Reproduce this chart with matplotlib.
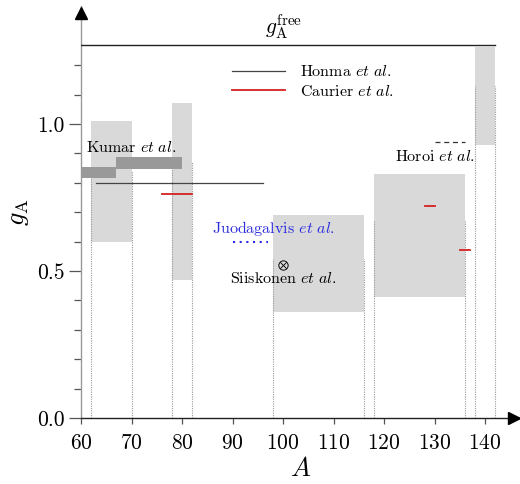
import matplotlib
matplotlib.use("Agg")
import matplotlib.pyplot as plt
from matplotlib.patches import Rectangle

plt.rcParams['font.family'] = 'serif'
plt.rcParams['font.serif'] = ['cmr10', 'DejaVu Serif']
plt.rcParams['mathtext.fontset'] = 'cm'
plt.rcParams['axes.formatter.use_mathtext'] = True

# ---- data ----
box_left = [62, 78, 98, 118, 138]
box_right = [70, 82, 116, 136, 142]
box_low = [0.60, 0.47, 0.36, 0.41, 0.93]
box_high = [1.01, 1.07, 0.69, 0.83, 1.26]
dotted_top = [0.84, 0.87, 0.54, 0.67, 1.13]

kumar_start = [60, 67]
kumar_end = [67, 80]
kumar_g = [0.835, 0.866]
kumar_halfwidth = 0.02

honma_start, honma_end, honma_g = 63, 96, 0.80
caurier_start = [76, 128, 135]
caurier_end = [82, 130, 137]
caurier_g = [0.76, 0.72, 0.57]
juoda_start, juoda_end, juoda_g = 90, 97, 0.60
siiskonen_A, siiskonen_g = 100, 0.52
horoi_start, horoi_end, horoi_g = 130, 136, 0.94
gA_free, gA_free_end = 1.27, 142

xticks = [60, 70, 80, 90, 100, 110, 120, 130, 140]
yticks = [0.0, 0.5, 1.0]

fig = plt.figure(figsize=(5.2, 4.84), dpi=100)
ax = fig.add_axes([0.1558, 0.1364, 0.8442, 0.8506])
ax.set_xlim(60, 146.9)
ax.set_ylim(0, 1.40)

for l, r, lo, hi, dt in zip(box_left, box_right, box_low, box_high, dotted_top):
    ax.add_patch(Rectangle((l, lo), r - l, hi - lo, facecolor='#d9d9d9',
                           edgecolor='none', zorder=1))
    ax.vlines([l, r], 0, dt, colors='#999999', linestyles=(0, (1, 1.1)),
              linewidth=0.8, zorder=2)

for s, e, g in zip(kumar_start, kumar_end, kumar_g):
    ax.add_patch(Rectangle((s, g - kumar_halfwidth), e - s, 2 * kumar_halfwidth,
                           facecolor='#999999', edgecolor='none', zorder=3))

ax.plot([60, gA_free_end], [gA_free, gA_free], color='#222222', lw=1.0, zorder=3)
ax.text(100, gA_free + 0.008, r'$g_{\rm A}^{\rm free}$', ha='center', va='bottom',
        fontsize=15.5)

ax.plot([honma_start, honma_end], [honma_g, honma_g], color='#444444', lw=0.9,
        zorder=4, label=r'Honma $\mathit{et\ al.}$')
for i, (s, e, g) in enumerate(zip(caurier_start, caurier_end, caurier_g)):
    ax.plot([s, e], [g, g], color='#d42020', lw=1.3, zorder=4,
            label=r'Caurier $\mathit{et\ al.}$' if i == 0 else None)

ax.plot([juoda_start, juoda_end], [juoda_g, juoda_g], color='#2a2ae0',
        linestyle=(0, (1, 2.2)), lw=1.5, zorder=4)
ax.plot([horoi_start, horoi_end], [horoi_g, horoi_g], color='#333333',
        linestyle=(0, (4, 3)), lw=0.9, zorder=4)
ax.plot([siiskonen_A], [siiskonen_g], marker=r'$\otimes$', color='#111111',
        markersize=7, markeredgewidth=0.3, linestyle='none', zorder=5)

ax.text(70, 0.92, r'Kumar $\mathit{et\ al.}$', ha='center', va='center', fontsize=11.5)
ax.text(98, 0.643, r'Juodagalvis $\mathit{et\ al.}$', ha='center', va='center',
        fontsize=11.5, color='#2a2ae0')
ax.text(100, 0.476, r'Siiskonen $\mathit{et\ al.}$', ha='center', va='center', fontsize=11.5)
ax.text(130, 0.889, r'Horoi $\mathit{et\ al.}$', ha='center', va='center', fontsize=11.5)

leg = ax.legend(loc='center left', bbox_to_anchor=(0.345, 0.817), frameon=False,
                fontsize=11.5, handlelength=3.3, handletextpad=0.9,
                labelspacing=0.3, borderpad=0, borderaxespad=0)

ax.spines['top'].set_visible(False)
ax.spines['right'].set_visible(False)
ax.spines['left'].set_color('#999999')
ax.spines['bottom'].set_color('#222222')
ax.spines['left'].set_linewidth(1.0)
ax.spines['bottom'].set_linewidth(1.0)

ax.set_xticks(xticks)
ax.set_yticks(yticks)
ax.set_yticks([0.1, 0.2, 0.3, 0.4, 0.6, 0.7, 0.8, 0.9, 1.1, 1.2], minor=True)
ax.set_yticklabels(['0.0', '0.5', '1.0'])
ax.tick_params(axis='y', which='major', length=9, width=0.9, color='#555555',
               labelsize=15.5, pad=3)
ax.tick_params(axis='y', which='minor', length=5, width=0.9, color='#555555')
ax.tick_params(axis='x', which='major', length=4, width=0.9, color='#555555',
               labelsize=15.5, pad=7)

ax.plot([145.8], [0], marker='>', color='black', markersize=9, clip_on=False, zorder=6)
ax.plot([60], [1.378], marker='^', color='black', markersize=9, clip_on=False, zorder=6)

ax.set_xlabel(r'$A$', fontsize=19, labelpad=3)
ax.set_ylabel(r'$g_{\rm A}$', fontsize=19, labelpad=4)

fig.savefig('out.png', dpi=100)
